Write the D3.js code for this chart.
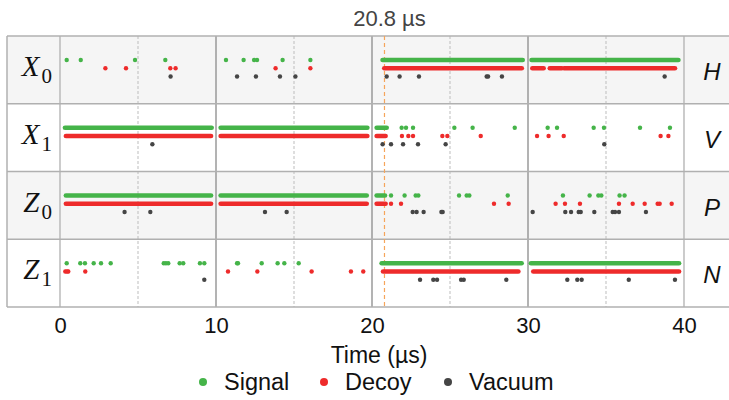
<!DOCTYPE html>
<html>
<head>
<meta charset="utf-8">
<script src="https://cdn.jsdelivr.net/npm/d3@7"></script>
<style>
  body { margin: 0; background: #fff; }
  svg { font-family: "Liberation Sans", Arial, sans-serif; }
</style>
</head>
<body>
<svg id="chart1"></svg>
<script>
// Row labels and basis labels
var rows = ["X0", "X1", "Z0", "Z1"];
var rowLetters = ["X", "X", "Z", "Z"];
var rowSubs = ["0", "1", "0", "1"];
var bases = ["H", "V", "P", "N"];
var xTicks = [0, 10, 20, 30, 40];
var minorTicks = [5, 15, 25, 35];
var markerTime = 20.8;
var types = ["Signal", "Decoy", "Vacuum"];

// Dense runs of detections, [row, start, end] in µs
var signalBands = [
  ["X0", 20.68, 29.66], ["X0", 30.23, 39.64],
  ["X1", 0.32, 9.72], ["X1", 10.3, 19.7], ["X1", 20.3, 20.94],
  ["Z0", 0.38, 9.68], ["Z0", 10.3, 19.66], ["Z0", 20.3, 20.83],
  ["Z1", 20.62, 29.59], ["Z1", 30.19, 39.68]
];
var decoyBands = [
  ["X0", 20.79, 29.6], ["X0", 30.28, 31.0], ["X0", 31.4, 32.16], ["X0", 32.31, 39.42],
  ["X1", 0.38, 9.68], ["X1", 10.3, 19.7], ["X1", 20.3, 20.87],
  ["Z0", 0.38, 9.68], ["Z0", 10.3, 19.66], ["Z0", 20.3, 20.87],
  ["Z1", 20.71, 29.38], ["Z1", 30.34, 39.68]
];

// Single detections (µs)
var x0Signal = [0.43, 1.33, 4.81, 6.75, 10.64, 11.77, 12.44, 12.63, 14.27, 16.05];
var x0Decoy = [2.91, 4.23, 7.07, 7.41, 13.82, 16.05];
var x0Vacuum = [7.09, 11.35, 12.56, 14.10, 15.09, 20.94, 21.77, 23.01, 27.35, 27.44, 28.33, 38.76];

var x1Signal = [21.9, 22.18, 22.63, 25.28, 26.45, 29.15, 31.26, 31.86, 34.21, 34.87, 37.18, 39.1];
var x1Decoy = [21.92, 22.33, 22.63, 24.51, 24.83, 26.97, 30.58, 31.32, 32.29, 38.5, 39.0];
var x1Vacuum = [5.92, 20.68, 21.22, 21.99, 22.95, 24.72, 34.89];

var z0Signal = [21.22, 22.09, 22.8, 22.97, 25.58, 26.07, 26.24, 28.7, 32.24, 33.95, 34.51, 34.7, 35.87, 36.19];
var z0Decoy = [21.22, 21.86, 27.82, 28.76, 31.77, 32.37, 33.33, 35.83, 36.71, 37.48, 38.31, 38.44, 39.21];
var z0Vacuum = [4.14, 5.79, 13.14, 14.53, 22.61, 22.86, 23.31, 24.45, 24.53, 30.3, 32.39, 32.76, 33.25, 33.38, 34.25, 35.43, 35.58, 35.83, 37.56];

var z1Signal = [0.43, 1.3, 1.6, 2.16, 2.63, 3.25, 6.65, 6.79, 6.94, 7.67, 7.9, 8.97, 9.25, 11.35, 11.41, 12.93, 13.95, 14.38, 15.3];
var z1Decoy = [0.34, 0.45, 0.53, 1.62, 10.77, 12.65, 16.13, 18.65, 19.44];
var z1Vacuum = [9.25, 23.08, 23.93, 24.17, 25.71, 25.88, 28.61, 32.52, 33.16, 33.44, 36.46, 39.42];

var colors = {Signal: "#45b449", Decoy: "#ee2b2b", Vacuum: "#454545"};

// Dimensions
var width = 729, height = 400;
var frameLeft = 7, plotLeft = 60, plotRight = 684, plotTop = 36, plotBottom = 307;

var svg = d3.select("#chart1")
  .attr("width", width)
  .attr("height", height);

var x = d3.scaleLinear().domain([0, 40]).range([plotLeft, plotRight]);
var y = d3.scaleBand().domain(rows).range([plotTop, plotBottom]);
// position of each detection type inside a row
var sub = d3.scalePoint().domain(types).range([24, 40.5]);

// Shaded rows
svg.append("g")
  .selectAll("rect")
  .data(rows)
  .enter()
  .append("rect")
    .attr("x", frameLeft)
    .attr("y", function(d) { return y(d); })
    .attr("width", width - frameLeft)
    .attr("height", y.bandwidth())
    .style("fill", function(d, i) { return i % 2 == 0 ? "#f5f5f5" : "#fff"; });

// Dashed minor lines
svg.append("g")
  .selectAll("line")
  .data(minorTicks)
  .enter()
  .append("line")
    .attr("x1", function(d) { return x(d); })
    .attr("x2", function(d) { return x(d); })
    .attr("y1", plotTop)
    .attr("y2", plotBottom)
    .style("stroke", "#bdbdbd")
    .style("stroke-width", 1)
    .style("stroke-dasharray", "3,2");

// Solid major lines
svg.append("g")
  .selectAll("line")
  .data(xTicks)
  .enter()
  .append("line")
    .attr("x1", function(d) { return x(d); })
    .attr("x2", function(d) { return x(d); })
    .attr("y1", plotTop)
    .attr("y2", plotBottom)
    .style("stroke", function(d) { return (d == 0 || d == 40) ? "#b0b0b0" : "#8a8a8a"; })
    .style("stroke-width", 1.3);

// Row separators and frame
var hLines = rows.map(function(d) { return y(d); }).concat([plotBottom]);
svg.append("g")
  .selectAll("line")
  .data(hLines)
  .enter()
  .append("line")
    .attr("x1", frameLeft)
    .attr("x2", width)
    .attr("y1", function(d) { return d; })
    .attr("y2", function(d) { return d; })
    .style("stroke", "#b0b0b0")
    .style("stroke-width", 1.5);

svg.append("line")
  .attr("x1", frameLeft).attr("x2", frameLeft)
  .attr("y1", plotTop).attr("y2", plotBottom)
  .style("stroke", "#b0b0b0")
  .style("stroke-width", 1.5);

// Orange marker
svg.append("line")
  .attr("x1", x(markerTime)).attr("x2", x(markerTime))
  .attr("y1", plotTop).attr("y2", plotBottom)
  .style("stroke", "#f6a55a")
  .style("stroke-width", 1.2)
  .style("stroke-dasharray", "4,3");

svg.append("text")
  .attr("x", x(markerTime) + 5)
  .attr("y", 26)
  .attr("text-anchor", "middle")
  .style("font-size", "22px")
  .style("fill", "#444")
  .text(markerTime + " µs");

// Bands
function drawBands(bands, type) {
  svg.append("g")
    .selectAll("line")
    .data(bands)
    .enter()
    .append("line")
      .attr("x1", function(d) { return x(d[1]); })
      .attr("x2", function(d) { return x(d[2]); })
      .attr("y1", function(d) { return y(d[0]) + sub(type); })
      .attr("y2", function(d) { return y(d[0]) + sub(type); })
      .style("stroke", colors[type])
      .style("stroke-width", 4.7)
      .style("stroke-linecap", "round");
}
drawBands(signalBands, "Signal");
drawBands(decoyBands, "Decoy");

// Dots
function drawDots(row, type, times) {
  svg.append("g")
    .selectAll("circle")
    .data(times)
    .enter()
    .append("circle")
      .attr("cx", function(d) { return x(d); })
      .attr("cy", y(row) + sub(type))
      .attr("r", 2.2)
      .style("fill", colors[type]);
}
drawDots("X0", "Signal", x0Signal);
drawDots("X0", "Decoy", x0Decoy);
drawDots("X0", "Vacuum", x0Vacuum);
drawDots("X1", "Signal", x1Signal);
drawDots("X1", "Decoy", x1Decoy);
drawDots("X1", "Vacuum", x1Vacuum);
drawDots("Z0", "Signal", z0Signal);
drawDots("Z0", "Decoy", z0Decoy);
drawDots("Z0", "Vacuum", z0Vacuum);
drawDots("Z1", "Signal", z1Signal);
drawDots("Z1", "Decoy", z1Decoy);
drawDots("Z1", "Vacuum", z1Vacuum);

// Left row labels (math style)
var rowLabel = svg.append("g")
  .selectAll("text")
  .data(rows)
  .enter()
  .append("text")
    .attr("x", 52)
    .attr("y", function(d) { return y(d) + 40; })
    .attr("text-anchor", "end")
    .style("font-family", "'Liberation Serif', 'Times New Roman', serif")
    .style("fill", "#111");
rowLabel.append("tspan")
  .style("font-style", "italic")
  .style("font-size", "29px")
  .text(function(d, i) { return rowLetters[i]; });
rowLabel.append("tspan")
  .attr("dx", 2)
  .attr("dy", 7)
  .style("font-size", "21px")
  .text(function(d, i) { return rowSubs[i]; });

// Right basis labels
svg.append("g")
  .selectAll("text")
  .data(bases)
  .enter()
  .append("text")
    .attr("x", 712)
    .attr("y", function(d, i) { return y(rows[i]) + 44; })
    .attr("text-anchor", "middle")
    .style("font-style", "italic")
    .style("font-size", "24px")
    .style("fill", "#111")
    .text(function(d) { return d; });

// X axis
var xAxis = svg.append("g")
  .attr("transform", "translate(0," + plotBottom + ")")
  .call(d3.axisBottom(x).tickValues(xTicks).tickSize(0).tickPadding(10));
xAxis.select(".domain").remove();
xAxis.selectAll("text")
  .style("font-size", "22px")
  .style("font-family", "'Liberation Sans', Arial, sans-serif")
  .style("fill", "#111");

svg.append("text")
  .attr("x", (plotLeft + plotRight) / 2 + 7)
  .attr("y", 363)
  .attr("text-anchor", "middle")
  .style("font-size", "23px")
  .style("fill", "#111")
  .text("Time (µs)");

// Legend
var legendX = [203, 324, 448];
var legend = svg.append("g")
  .selectAll("g")
  .data(types)
  .enter()
  .append("g")
    .attr("transform", function(d, i) { return "translate(" + legendX[i] + ",382)"; });
legend.append("circle")
  .attr("r", 4)
  .style("fill", function(d) { return colors[d]; });
legend.append("text")
  .attr("x", 21)
  .attr("y", 8)
  .style("font-size", "23.5px")
  .style("fill", "#111")
  .text(function(d) { return d; });
</script>
</body>
</html>
